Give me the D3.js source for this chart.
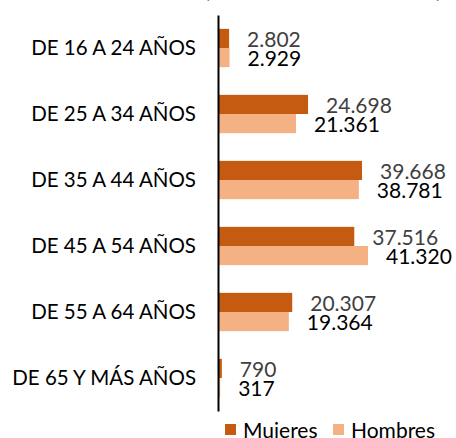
<!DOCTYPE html>
<html><head><meta charset="utf-8">
<script src="https://cdn.jsdelivr.net/npm/d3@7/dist/d3.min.js"></script>
<style>body{margin:0;background:#fff;} svg{display:block;}</style>
</head><body>
<svg id="c" width="456" height="438"></svg>
<script>
const categories = ["DE 16 A 24 AÑOS","DE 25 A 34 AÑOS","DE 35 A 44 AÑOS","DE 45 A 54 AÑOS","DE 55 A 64 AÑOS","DE 65 Y MÁS AÑOS"];
const seriesNames = ["Mujeres","Hombres"];
const mujeres = [2802, 24698, 39668, 37516, 20307, 790];
const hombres = [2929, 21361, 38781, 41320, 19364, 317];
const colors = ["#C55A11","#F4B183"];
const labelColors = ["#404040","#000000"];
const titleText = "(NÚMERO DE AFILIADOS)";

const svg = d3.select("#c");
const font = "Lato, 'Open Sans', sans-serif";
const x0 = 219;
const x = d3.scaleLinear().domain([0, 41320]).range([x0, 368]);
const y = d3.scaleBand().domain(categories).range([15, 411]).paddingInner(0.42).paddingOuter(0.21);
const sub = d3.scaleBand().domain(seriesNames).range([0, y.bandwidth()]);

// cut-off title (only the bottom of the parentheses shows)
svg.append("text").attr("x", 323).attr("y", -2.5).attr("text-anchor","middle")
  .attr("font-family", font).attr("font-size", 20).attr("fill","#000").text(titleText);

const data = [mujeres, hombres];
seriesNames.forEach((s, si) => {
  const g = svg.append("g");
  g.selectAll("rect").data(categories).join("rect")
    .attr("x", x(0)).attr("y", (c) => y(c) + sub(s))
    .attr("width", (c, i) => x(data[si][i]) - x(0))
    .attr("height", sub.bandwidth())
    .attr("fill", colors[si]);
  g.selectAll("text").data(categories).join("text")
    .attr("x", (c, i) => x(data[si][i]) + 18)
    .attr("y", (c) => y(c) + sub(s) + sub.bandwidth() - 1)
    .attr("font-family", font).attr("font-size", 21)
    .attr("fill", labelColors[si])
    .text((c, i) => d3.format(",")(data[si][i]).replace(/,/g, "."));
});

// axis
const yAxis = d3.axisLeft(y).tickSize(0).tickPadding(22);
const ag = svg.append("g").attr("transform", `translate(${x0 - 1},0)`).call(yAxis);
ag.select(".domain").attr("stroke", "#000").attr("stroke-width", 2);
ag.selectAll(".tick text").attr("font-family", font).attr("font-size", 20.5).attr("fill", "#000").attr("dy", "0.35em");

// legend
const legend = svg.append("g");
const lx = [225, 333];
seriesNames.forEach((s, i) => {
  legend.append("rect").attr("x", lx[i]).attr("y", 424).attr("width", 11).attr("height", 11).attr("fill", colors[i]);
  legend.append("text").attr("x", lx[i] + 18).attr("y", 438).attr("font-family", font).attr("font-size", 21).attr("fill", "#000").text(s);
});
</script>
</body></html>
